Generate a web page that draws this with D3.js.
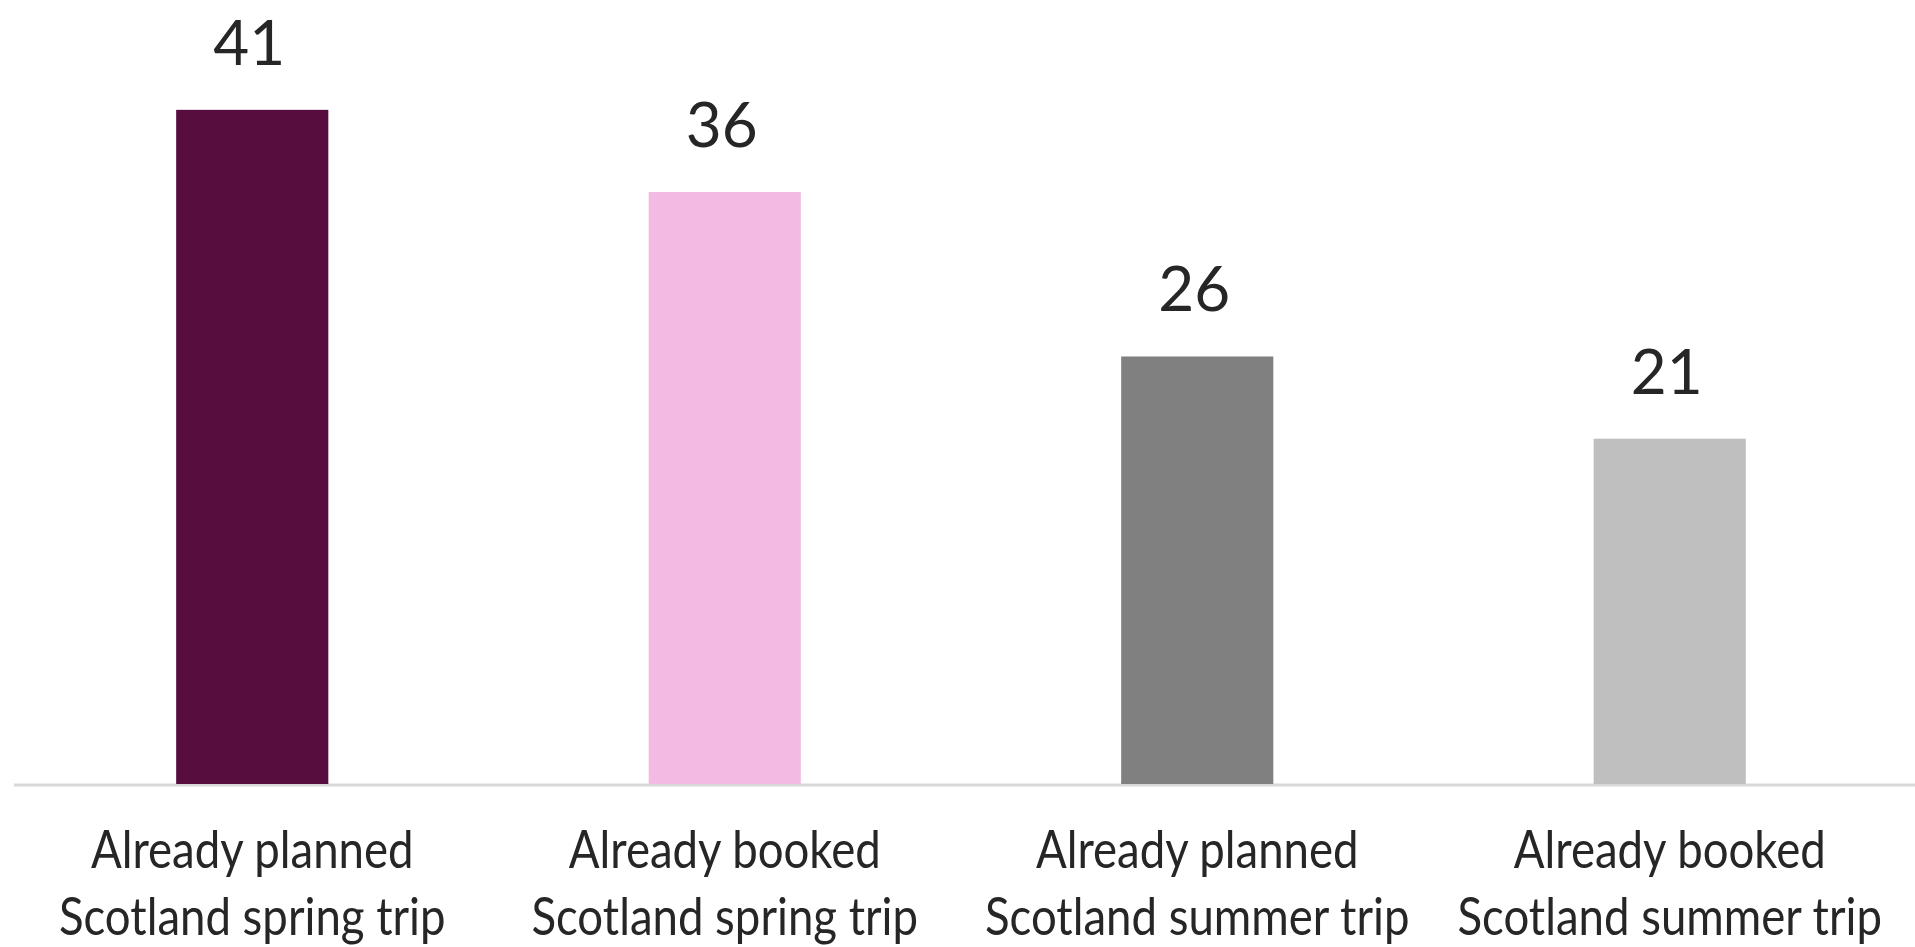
<!DOCTYPE html>
<html>
<head>
<meta charset="utf-8">
<script src="https://cdn.jsdelivr.net/npm/d3@7"></script>
<style>
  body { margin: 0; background: #fff; }
  text { font-family: Lato, "Open Sans", sans-serif; fill: #262626; }
</style>
</head>
<body>
<div id="chart"></div>
<script>
// data
var categories = [
	["Already planned", "Scotland spring trip"],
	["Already booked", "Scotland spring trip"],
	["Already planned", "Scotland summer trip"],
	["Already booked", "Scotland summer trip"]
];
var values = [41, 36, 26, 21];
var colors = ["#580d3f", "#f3bbe3", "#808080", "#bfbfbf"];

// set the dimensions and margins of the graph
var W = 1915, H = 947;
var margin = { top: 0, right: 9, bottom: 163, left: 16 },
	width = W - margin.left - margin.right,
	height = H - margin.top - margin.bottom;

var svg = d3.select("#chart")
	.append("svg")
	.attr("width", W)
	.attr("height", H)
	.append("g")
	.attr("transform", "translate(" + margin.left + "," + margin.top + ")");

var x = d3.scaleBand()
	.domain(d3.range(categories.length))
	.range([0, width])
	.paddingInner(0.678)
	.paddingOuter(0.339);

var y = d3.scaleLinear()
	.domain([0, 47.68])
	.range([height, 0]);

// baseline
svg.append("line")
	.attr("x1", -2).attr("x2", width + margin.right)
	.attr("y1", y(0) + 1).attr("y2", y(0) + 1)
	.attr("stroke", "#d9d9d9")
	.attr("stroke-width", 3);

// bars
svg.selectAll("rect.bar")
	.data(values)
	.join("rect")
	.attr("class", "bar")
	.attr("x", (d, i) => x(i))
	.attr("width", x.bandwidth())
	.attr("y", d => y(d))
	.attr("height", d => y(0) - y(d))
	.attr("fill", (d, i) => colors[i]);

// value labels
svg.selectAll("text.val")
	.data(values)
	.join("text")
	.attr("class", "val")
	.attr("x", (d, i) => x(i) + x.bandwidth() / 2 - 3)
	.attr("y", d => y(d) - 45)
	.attr("text-anchor", "middle")
	.style("font-size", "62px")
	.text(d => d);

// category labels
var lab = svg.selectAll("g.cat")
	.data(categories)
	.join("g")
	.attr("class", "cat")
	.attr("transform", (d, i) => "translate(" + (x(i) + x.bandwidth() / 2) + "," + (y(0) + 84) + ") scale(0.86,1)");
lab.selectAll("text")
	.data(d => d)
	.join("text")
	.attr("y", (d, j) => j * 67)
	.attr("text-anchor", "middle")
	.style("font-size", "53px")
	.text(d => d);
</script>
</body>
</html>
